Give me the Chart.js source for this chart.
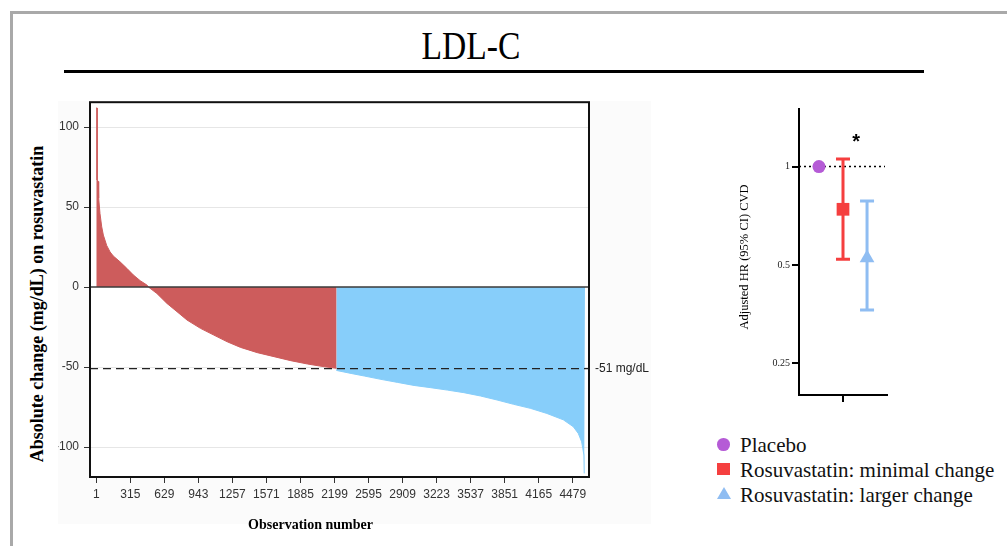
<!DOCTYPE html>
<html><head><meta charset="utf-8">
<script src="https://cdn.jsdelivr.net/npm/chart.js@4.4.1/dist/chart.umd.min.js"></script>
<style>
html,body{margin:0;padding:0;background:#fff;}
#page{position:relative;width:1007px;height:546px;overflow:hidden;background:#fff;font-family:'Liberation Serif','Times New Roman',serif;}
.abs{position:absolute;}
.lg{position:absolute;left:740px;font-size:21px;line-height:24px;color:#111;white-space:nowrap;}
</style></head><body>
<div id="page">
  <div class="abs" style="left:10px;top:11px;width:1000px;height:540px;border-top:3px solid #a9a9a9;border-left:3px solid #a9a9a9;"></div>
  <div class="abs" style="left:471px;top:26px;font-size:40px;line-height:40px;color:#000;white-space:nowrap;transform:translateX(-50%) scaleX(0.84);">LDL-C</div>
  <div class="abs" style="left:64px;top:70px;width:860px;height:3px;background:#000;"></div>
  <div class="abs" style="left:58px;top:101px;width:593px;height:423px;background:#fbfbfb;"></div>
  <canvas id="wf" class="abs" style="left:58px;top:90px;" width="594" height="446"></canvas>
  <div class="abs" style="left:37px;top:304px;font-size:18px;line-height:18px;font-weight:bold;color:#000;white-space:nowrap;transform:translate(-50%,-50%) rotate(-90deg);">Absolute change (mg/dL) on rosuvastatin</div>
  <canvas id="hr" class="abs" style="left:700px;top:90px;" width="307" height="340"></canvas>
  <div id="legend"></div>
</div>
<script>
// ---------- Waterfall data ----------
const xTickValues = [1, 315, 629, 943, 1257, 1571, 1885, 2199, 2513, 2827, 3141, 3455, 3769, 4083, 4397];
const xTickLabels = ['1','315','629','943','1257','1571','1885','2199','2595','2909','3223','3537','3851','4165','4479'];
const yTickValues = [100, 50, 0, -50, -100];
const yTickLabels = ['100','50','0','-50','-100'];

const minimalObs    = [1, 8, 9, 20, 23, 35, 51, 66, 97, 128, 158, 220, 283, 344, 406, 468, 483, 560, 653, 746, 838, 962, 1085, 1209, 1332, 1487, 1641, 1795, 1950, 2104, 2218];
const minimalChange = [112, 112, 67, 66, 55.6, 46, 37.7, 32.5, 26, 22, 19.4, 15.8, 11.7, 7.5, 4, 1.3, 0, -4, -10.2, -15.4, -20.6, -25.8, -30, -34.2, -37.7, -41, -43.5, -46, -48.1, -49.8, -50.8];

const largerObs    = [2215, 2230, 2352, 2474, 2628, 2781, 2933, 3087, 3240, 3392, 3546, 3699, 3851, 4005, 4158, 4310, 4402, 4448, 4479, 4490, 4500, 4503, 4510];
const largerChange = [-52, -52.3, -54, -55.6, -57.7, -59.6, -61.5, -62.9, -64.4, -66, -68.1, -70.6, -73.3, -75.8, -79, -83, -87.3, -91.5, -96.7, -101, -105, -116.5, -116.5];

const thresholdChange = -51;
const thresholdLabel = '-51 mg/dL';

// ---------- Hazard ratio data ----------
const groups   = ['Placebo', 'Rosuvastatin: minimal change', 'Rosuvastatin: larger change'];
const groupPos = [1, 2, 3];
const hrEst    = [1.0, 0.74, 0.525];
const hrLow    = [null, 0.52, 0.364];
const hrHigh   = [null, 1.054, 0.784];
const hrTickValues = [0.25, 0.5, 1];
const hrTickLabels = ['0.25', '0.5', '1'];

// ---------- styles ----------
const RED = '#cd5c5c', BLUE = '#87cefa';
const groupColors = ['#b55bd6', '#f53f3f', '#8fbdf2'];
const groupShapes = ['circle', 'rect', 'triangle'];
const groupRadius = [6.5, 9, 8.5];

const toPts = (xs, ys) => xs.map((x, i) => ({x: x, y: ys[i]}));

const wfPlugin = {
  id: 'wfDecor',
  beforeDraw(chart) {
    const {ctx, chartArea: a} = chart;
    ctx.save(); ctx.fillStyle = '#ffffff';
    ctx.fillRect(a.left, a.top, a.right - a.left, a.bottom - a.top);
    ctx.restore();
  },
  afterDatasetsDraw(chart) {
    const {ctx, chartArea: a, scales: {y}} = chart;
    ctx.save();
    const y0 = y.getPixelForValue(0);
    ctx.strokeStyle = '#3a3a3a'; ctx.lineWidth = 1.5;
    ctx.beginPath(); ctx.moveTo(a.left, y0); ctx.lineTo(a.right, y0); ctx.stroke();
    const yt = y.getPixelForValue(thresholdChange);
    ctx.strokeStyle = '#222'; ctx.lineWidth = 1.2; ctx.setLineDash([8, 5]);
    ctx.beginPath(); ctx.moveTo(a.left, yt); ctx.lineTo(a.right, yt); ctx.stroke();
    ctx.setLineDash([]);
    ctx.strokeStyle = '#111'; ctx.lineWidth = 2;
    ctx.strokeRect(a.left, a.top, a.right - a.left, a.bottom - a.top);
    ctx.restore();
  },
  afterDraw(chart) {
    const {ctx, chartArea: a, scales: {y}} = chart;
    ctx.save();
    ctx.fillStyle = '#222'; ctx.font = '12px "Liberation Sans", Arial, sans-serif';
    ctx.textAlign = 'left'; ctx.textBaseline = 'middle';
    ctx.fillText(thresholdLabel, a.right + 6, y.getPixelForValue(thresholdChange));
    ctx.fillStyle = '#000'; ctx.font = 'bold 14px "Liberation Serif", "Times New Roman", serif';
    ctx.textAlign = 'center'; ctx.textBaseline = 'alphabetic';
    ctx.fillText('Observation number', 252.5, 439.3);
    ctx.restore();
  }
};

new Chart(document.getElementById('wf'), {
  type: 'line',
  data: {
    datasets: [
      {data: toPts(minimalObs, minimalChange), borderColor: RED, backgroundColor: RED, borderWidth: 1, fill: 'origin', pointRadius: 0, tension: 0},
      {data: toPts(largerObs, largerChange), borderColor: BLUE, backgroundColor: BLUE, borderWidth: 1, fill: 'origin', pointRadius: 0, tension: 0}
    ]
  },
  options: {
    responsive: false, animation: false, events: [],
    layout: {padding: {top: 12, left: 0, right: 63, bottom: 0}},
    plugins: {legend: {display: false}, tooltip: {enabled: false}},
    scales: {
      x: {
        type: 'linear', min: -57, max: 4547, position: 'bottom',
        afterBuildTicks: s => { s.ticks = xTickValues.map(v => ({value: v})); },
        afterFit: s => { s.height = 59; },
        ticks: {callback: (v, i) => xTickLabels[i], autoSkip: false, maxRotation: 0, minRotation: 0, padding: 4,
                color: '#333', font: {family: '"Liberation Sans", Arial, sans-serif', size: 12}},
        grid: {drawOnChartArea: false, drawTicks: true, tickLength: 6, tickColor: '#333', lineWidth: 1},
        border: {display: false}
      },
      y: {
        type: 'linear', min: -118.75, max: 115.6, position: 'left',
        afterBuildTicks: s => { s.ticks = yTickValues.map(v => ({value: v})); },
        afterFit: s => { s.width = 32; },
        ticks: {callback: (v, i) => yTickLabels[i], padding: 5, color: '#333',
                font: {family: '"Liberation Sans", Arial, sans-serif', size: 12}},
        grid: {color: c => (c.tick && c.tick.value === 0) ? 'rgba(0,0,0,0)' : '#e6e6e6', lineWidth: 1,
               drawTicks: true, tickLength: 6, tickColor: '#333'},
        border: {display: false}
      }
    }
  },
  plugins: [wfPlugin]
});

// ---------- Hazard-ratio plot ----------
const hrPlugin = {
  id: 'hrDecor',
  beforeDatasetsDraw(chart) {
    const {ctx, chartArea: a, scales: {x, y}} = chart;
    ctx.save();
    const y1 = y.getPixelForValue(1);
    ctx.strokeStyle = '#000'; ctx.lineWidth = 1.5; ctx.setLineDash([2, 3]);
    ctx.beginPath(); ctx.moveTo(a.left, y1); ctx.lineTo(a.right - 2, y1); ctx.stroke();
    ctx.setLineDash([]);
    groupPos.forEach((g, i) => {
      if (hrLow[i] == null) return;
      const px = x.getPixelForValue(g);
      const yl = y.getPixelForValue(hrLow[i]), yh = y.getPixelForValue(hrHigh[i]);
      ctx.strokeStyle = groupColors[i]; ctx.lineWidth = 3;
      ctx.beginPath();
      ctx.moveTo(px, yl); ctx.lineTo(px, yh);
      ctx.moveTo(px - 7, yl); ctx.lineTo(px + 7, yl);
      ctx.moveTo(px - 7, yh); ctx.lineTo(px + 7, yh);
      ctx.stroke();
    });
    ctx.restore();
  },
  afterDraw(chart) {
    const {ctx, scales: {x, y}} = chart;
    ctx.save();
    ctx.fillStyle = '#000';
    ctx.font = 'bold 20px "Liberation Sans", Arial, sans-serif';
    ctx.textAlign = 'center'; ctx.textBaseline = 'alphabetic';
    ctx.fillText('*', x.getPixelForValue(2.55), y.getPixelForValue(1.235) + 11.5);
    ctx.font = '12.5px "Liberation Serif", "Times New Roman", serif';
    ctx.translate(45, 167); ctx.rotate(-Math.PI / 2);
    ctx.textBaseline = 'middle';
    ctx.fillText('Adjusted HR (95% CI) CVD', 0, 0);
    ctx.restore();
  }
};

new Chart(document.getElementById('hr'), {
  type: 'scatter',
  data: {
    datasets: groups.map((g, i) => ({
      label: g, data: [{x: groupPos[i], y: hrEst[i]}],
      pointStyle: groupShapes[i], pointRadius: groupRadius[i],
      backgroundColor: groupColors[i], borderColor: groupColors[i], borderWidth: 0
    }))
  },
  options: {
    responsive: false, animation: false, events: [],
    layout: {padding: {top: 19, left: 0, right: 120, bottom: 0}},
    plugins: {legend: {display: false}, tooltip: {enabled: false}},
    scales: {
      x: {
        type: 'linear', min: 0.17, max: 3.83, position: 'bottom',
        afterBuildTicks: s => { s.ticks = [{value: groupPos[1]}]; },
        afterFit: s => { s.height = 35; },
        ticks: {callback: () => '', padding: 0},
        grid: {drawOnChartArea: false, drawTicks: true, tickLength: 7, tickColor: '#000', lineWidth: 2},
        border: {display: true, color: '#000', width: 2}
      },
      y: {
        type: 'logarithmic', min: 0.2, max: 1.5, position: 'left',
        afterBuildTicks: s => { s.ticks = hrTickValues.map(v => ({value: v})); },
        afterFit: s => { s.width = 99; },
        ticks: {callback: (v, i) => hrTickLabels[i], padding: 2, color: '#222',
                font: {family: '"Liberation Serif", "Times New Roman", serif', size: 10}},
        grid: {drawOnChartArea: false, drawTicks: true, tickLength: 7, tickColor: '#000', lineWidth: 2},
        border: {display: true, color: '#000', width: 2}
      }
    }
  },
  plugins: [hrPlugin]
});

// ---------- Legend (HTML, from the group arrays) ----------
const legendEl = document.getElementById('legend');
const legendTops = [433.2, 457.9, 482.6];
groups.forEach((g, i) => {
  const m = document.createElement('div');
  m.style.position = 'absolute';
  const cy = legendTops[i] + 11.3;
  if (groupShapes[i] === 'circle') {
    Object.assign(m.style, {left: '717px', top: (cy - 6.3) + 'px', width: '12.7px', height: '12.7px', borderRadius: '50%', background: groupColors[i]});
  } else if (groupShapes[i] === 'rect') {
    Object.assign(m.style, {left: '717px', top: (cy - 6) + 'px', width: '12.7px', height: '12px', background: groupColors[i]});
  } else {
    Object.assign(m.style, {left: '716.5px', top: (cy - 6.5) + 'px', width: '0', height: '0',
      borderLeft: '7px solid transparent', borderRight: '7px solid transparent', borderBottom: '12px solid ' + groupColors[i]});
  }
  legendEl.appendChild(m);
  const t = document.createElement('div');
  t.className = 'lg'; t.style.top = legendTops[i] + 'px'; t.textContent = g;
  legendEl.appendChild(t);
});
</script>
</body></html>
